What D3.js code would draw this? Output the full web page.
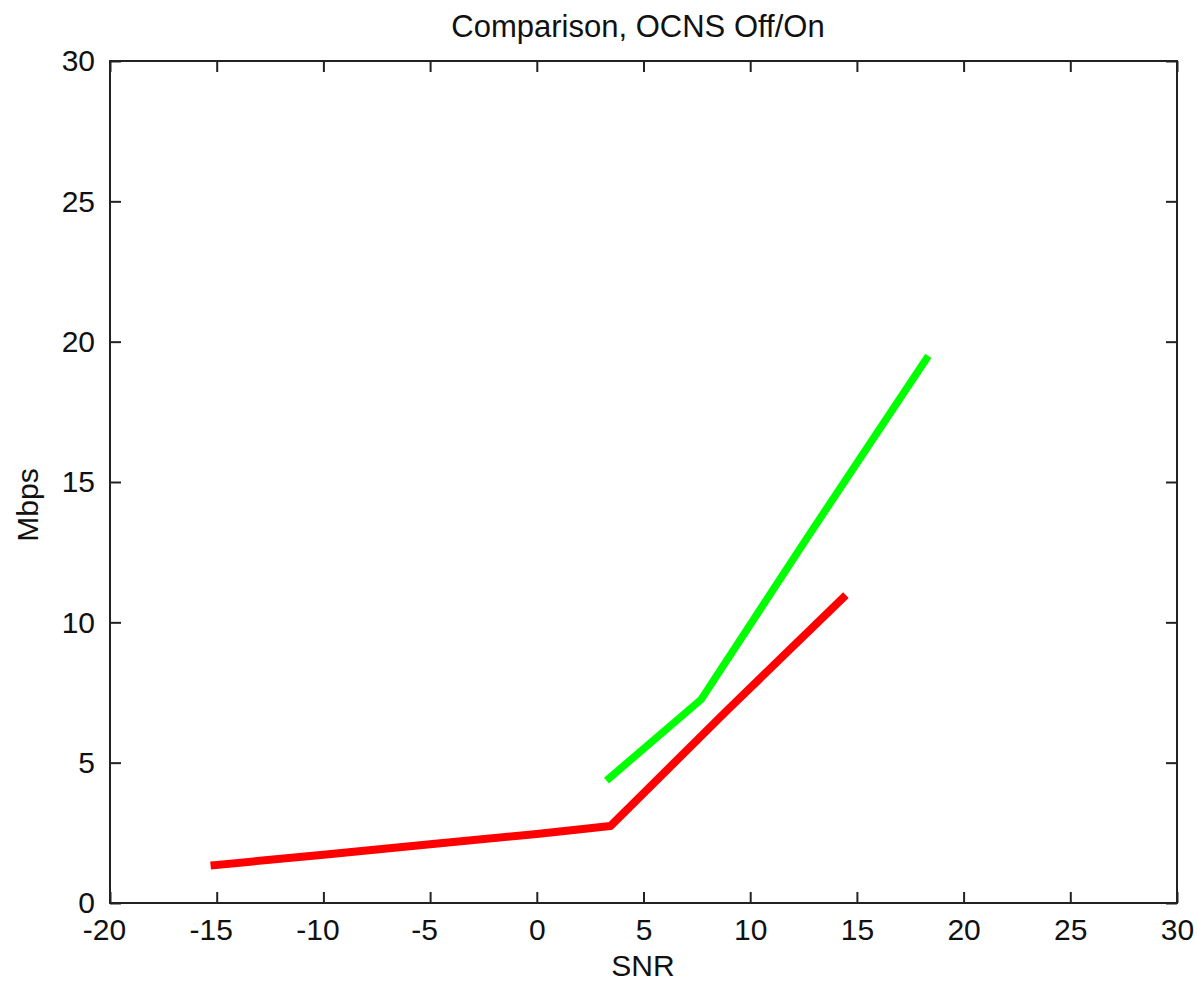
<!DOCTYPE html>
<html>
<head>
<meta charset="utf-8">
<script src="https://cdn.jsdelivr.net/npm/d3@7"></script>
<style>
	body { margin: 0; background: #fff; }
	text { font-family: 'Liberation Sans', Arial, sans-serif; fill: #111; }
</style>
</head>
<body>
<svg id="chart"></svg>
<script>

var w = 1198;
var h = 992;

// OCNS off (red) / on (green)
var red_snr = [-15.1, -10, -5, 0, 3.45, 8.9, 14.35];
var red_mbps = [1.35, 1.72, 2.09, 2.46, 2.74, 6.85, 10.87];
var green_snr = [3.4, 7.7, 12.7, 18.25];
var green_mbps = [4.45, 7.25, 13.05, 19.38];

var x_ticks = [-20, -15, -10, -5, 0, 5, 10, 15, 20, 25, 30];
var y_ticks = [0, 5, 10, 15, 20, 25, 30];

// plot box (note: 'top' is taken by window.top)
var m_left = 110, m_right = 1177, m_top = 61, m_bottom = 903;

var svg = d3.select('#chart')
	.attr('width', w)
	.attr('height', h);

var x = d3.scaleLinear().domain([-20, 30]).range([m_left, m_right]);
var y = d3.scaleLinear().domain([0, 30]).range([m_bottom, m_top]);

var line = d3.line()
	.x(function(d) { return x(d[0]); })
	.y(function(d) { return y(d[1]); });

function draw_series(xs, ys, color, width) {
	var pts = xs.map(function(v, i) { return [v, ys[i]]; });
	svg.append('path')
		.datum(pts)
		.attr('d', line)
		.attr('fill', 'none')
		.attr('stroke', color)
		.attr('stroke-width', width)
		.attr('stroke-linejoin', 'round')
		.attr('stroke-linecap', 'square');
}

draw_series(red_snr, red_mbps, '#ff0000', 8);
draw_series(green_snr, green_mbps, '#00ff00', 7.5);

// box with inward ticks on all sides (matlab style)
var tl = 11;
var axis_col = '#222';
var fmt = function(d) { return String(d); };   // plain hyphen minus like matlab

svg.append('rect')
	.attr('x', m_left).attr('y', m_top)
	.attr('width', m_right - m_left).attr('height', m_bottom - m_top)
	.attr('fill', 'none')
	.attr('stroke', axis_col)
	.attr('stroke-width', 2);

var xb = svg.append('g').attr('transform', 'translate(0,' + m_bottom + ')')
	.call(d3.axisBottom(x).tickValues(x_ticks).tickFormat(fmt).tickSizeInner(-tl).tickSizeOuter(0).tickPadding(tl + 5));
var xt = svg.append('g').attr('transform', 'translate(0,' + m_top + ')')
	.call(d3.axisTop(x).tickValues(x_ticks).tickSizeInner(-tl).tickSizeOuter(0).tickFormat(''));
var yl = svg.append('g').attr('transform', 'translate(' + m_left + ',0)')
	.call(d3.axisLeft(y).tickValues(y_ticks).tickFormat(fmt).tickSizeInner(-tl).tickSizeOuter(0).tickPadding(tl + 4));
var yr = svg.append('g').attr('transform', 'translate(' + m_right + ',0)')
	.call(d3.axisRight(y).tickValues(y_ticks).tickSizeInner(-tl).tickSizeOuter(0).tickFormat(''));

[xb, xt, yl, yr].forEach(function(g) {
	g.select('.domain').remove();
	g.selectAll('.tick line').attr('stroke', axis_col).attr('stroke-width', 2);
	g.selectAll('.tick text')
		.style('font-family', "'Liberation Sans', Arial, sans-serif")
		.style('font-size', '30px')
		.attr('fill', '#111');
});

xb.selectAll('.tick text')
	.attr('dx', function(d) { return d < 0 ? -6 : 0; });
yl.selectAll('.tick text').attr('dy', '0.33em');

svg.append('text')
	.attr('x', 638).attr('y', 37)
	.attr('text-anchor', 'middle')
	.style('font-size', '31px')
	.text('Comparison, OCNS Off/On');

svg.append('text')
	.attr('x', 643).attr('y', 976)
	.attr('text-anchor', 'middle')
	.style('font-size', '30px')
	.text('SNR');

svg.append('text')
	.attr('transform', 'translate(38,' + 505 + ') rotate(-90)')
	.attr('text-anchor', 'middle')
	.style('font-size', '30px')
	.text('Mbps');

</script>
</body>
</html>
